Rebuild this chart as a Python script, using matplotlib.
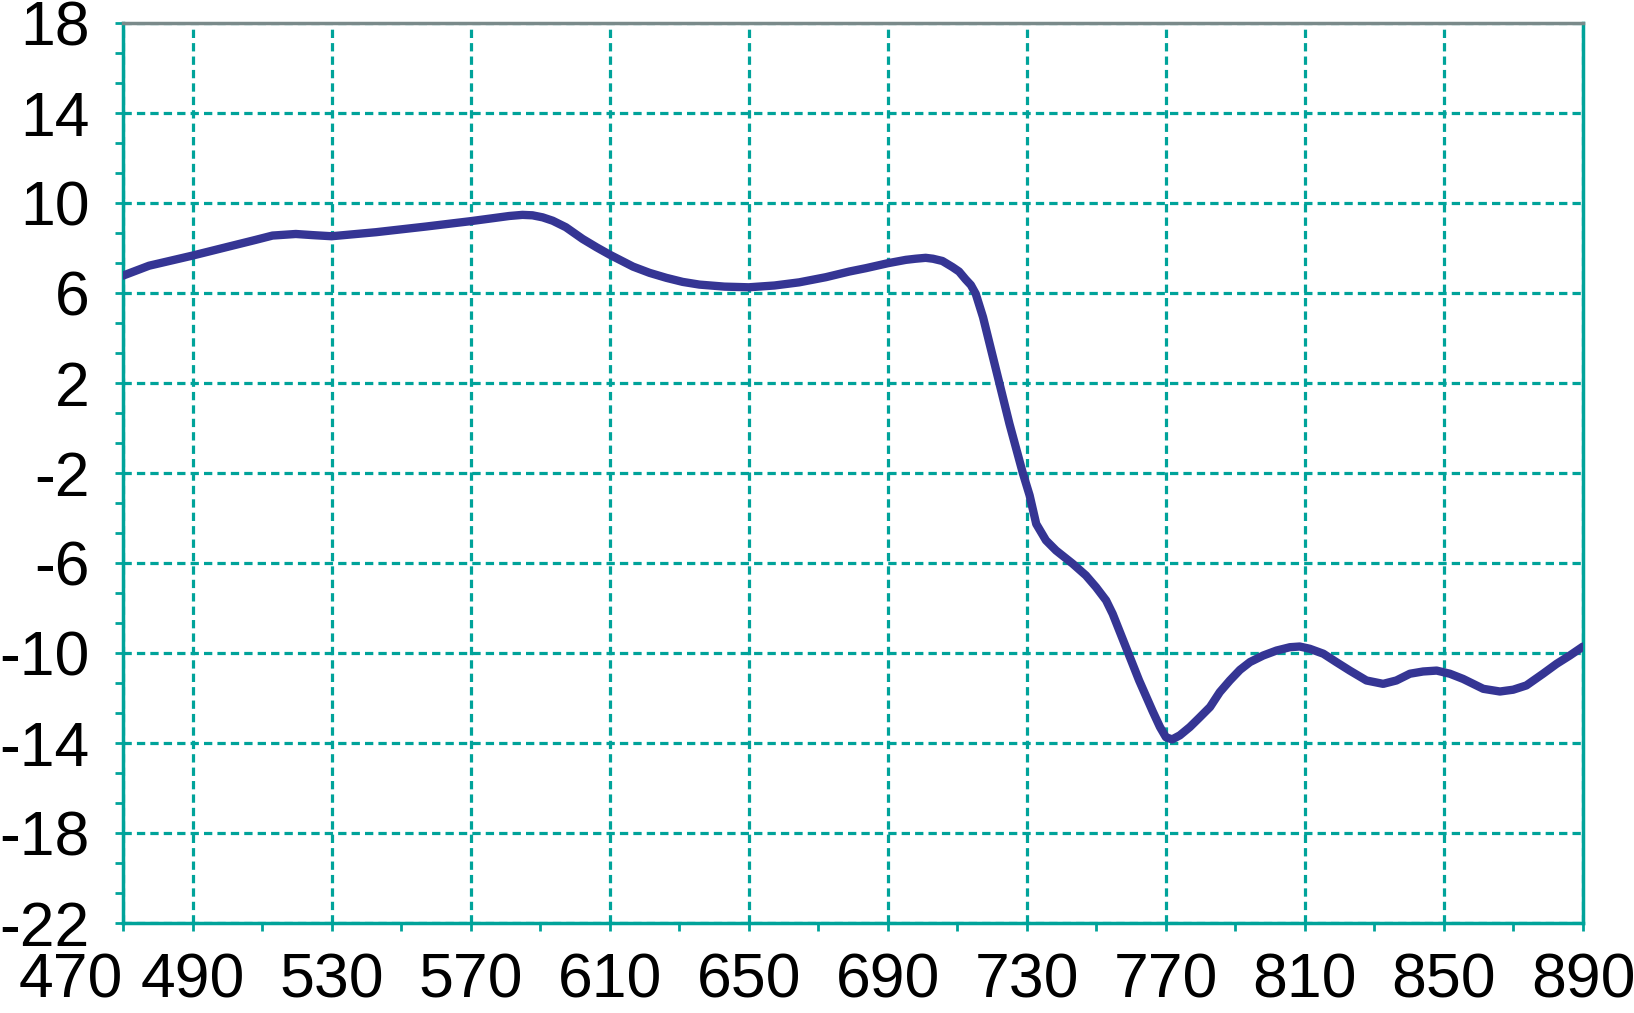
import matplotlib.pyplot as plt
from matplotlib.ticker import AutoMinorLocator

# %% Style
TEAL = "#00a39a"
LINE_COLOR = "#353594"
FONT_SIZE = 45

plt.rcParams.update(
    {
        "font.family": ["Liberation Sans", "DejaVu Sans"],
        "font.size": FONT_SIZE,
    }
)

# %% Data
wavelength = [
    470, 477.5, 490, 499.6, 508.2, 513, 519.7, 524.5, 530, 542.8,
    557.1, 570, 576.3, 581.1, 584.9, 587.8, 590.7, 593.6, 597.4, 602.2,
    606.2, 610, 616.7, 621.5, 626.3, 631, 635.8, 643, 650, 657.4,
    664.5, 672.2, 678.9, 683.7, 690, 695.2, 698, 700.9, 703, 705.7,
    708.6, 710.5, 712.4, 713.9, 715.3, 717.4, 721.2, 725, 728.9, 730.8,
    732.7, 735.5, 738.4, 743.2, 747, 749.9, 752.8, 754.7, 758.5, 762.3,
    766.2, 768.3, 770, 771.8, 774, 776.9, 779.8, 782.7, 785.5, 788.4,
    791.3, 794.2, 798, 801.8, 805.7, 808.5, 811.4, 815.3, 819, 822.9,
    827.7, 832.5, 836.3, 840.2, 844, 847.9, 851.7, 855.5, 861.3, 866.1,
    869.9, 873.7, 878.5, 882.4, 886.2, 890,
]
value = [
    6.77, 7.21, 7.66, 8.03, 8.36, 8.55, 8.62, 8.57, 8.52, 8.70,
    8.95, 9.19, 9.32, 9.42, 9.47, 9.45, 9.36, 9.21, 8.92, 8.40,
    8.03, 7.70, 7.17, 6.89, 6.67, 6.49, 6.37, 6.28, 6.25, 6.33,
    6.47, 6.70, 6.95, 7.10, 7.32, 7.47, 7.52, 7.56, 7.52, 7.42,
    7.15, 6.95, 6.60, 6.35, 5.96, 4.92, 2.55, 0.18, -2.04, -3.00,
    -4.27, -5.00, -5.45, -6.04, -6.56, -7.08, -7.67, -8.27, -9.75, -11.23,
    -12.60, -13.30, -13.75, -13.85, -13.67, -13.30, -12.86, -12.41, -11.75, -11.23,
    -10.76, -10.41, -10.12, -9.90, -9.75, -9.72, -9.82, -10.04, -10.41, -10.79,
    -11.23, -11.38, -11.23, -10.93, -10.83, -10.79, -10.93, -11.16, -11.60, -11.72,
    -11.64, -11.45, -10.93, -10.49, -10.12, -9.72,
]
x_ticks = [470, 490, 530, 570, 610, 650, 690, 730, 770, 810, 850, 890]
x_minor = [510, 550, 590, 630, 670, 710, 750, 790, 830, 870]
y_ticks = [-22, -18, -14, -10, -6, -2, 2, 6, 10, 14, 18]

fig = plt.figure(figsize=(16.34, 10.13), dpi=100)
ax = fig.add_axes([0.0753, 0.0891, 0.8935, 0.8882])

ax.plot(wavelength, value, color=LINE_COLOR, lw=6,
        solid_joinstyle="round", solid_capstyle="round", zorder=3)

ax.set_xlim(470, 890)
ax.set_ylim(-22, 18)
ax.set_xticks(x_ticks)
ax.set_xticks(x_minor, minor=True)
ax.set_yticks(y_ticks)
ax.yaxis.set_minor_locator(AutoMinorLocator(3))
ax.set_xticklabels([str(t) for t in x_ticks])
ax.set_yticklabels([str(t) for t in y_ticks])
ax.get_xticklabels()[0].set_horizontalalignment("right")

ax.grid(True, which="major", color=TEAL, lw=2.3, linestyle=(0, (2.6, 1.6)))
ax.set_axisbelow(True)

for side in ["left", "bottom", "right"]:
    ax.spines[side].set_color(TEAL)
    ax.spines[side].set_linewidth(2.5)
ax.spines["top"].set_color("#7a8a8a")
ax.spines["top"].set_linewidth(2.5)

ax.tick_params(which="both", direction="out", color=TEAL, width=2, length=6)
ax.tick_params(axis="x", pad=15, labelsize=FONT_SIZE)
ax.tick_params(axis="y", pad=18, labelsize=FONT_SIZE)

fig.savefig("out.png", dpi=100)
